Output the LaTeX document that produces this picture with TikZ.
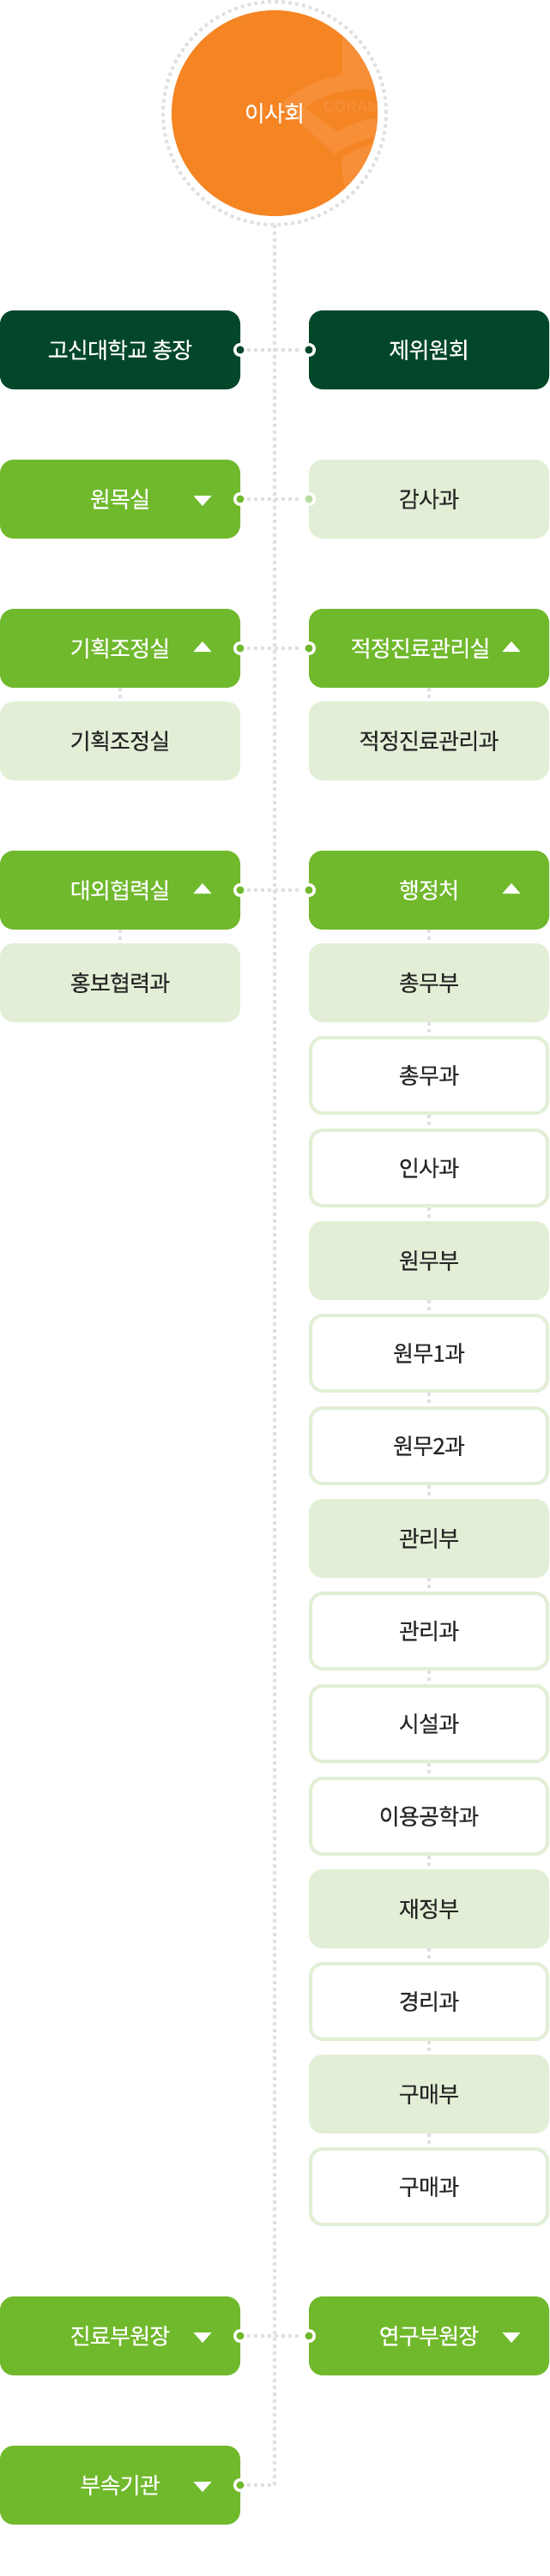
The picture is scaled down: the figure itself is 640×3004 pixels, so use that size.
\documentclass[tikz,border=0pt]{standalone}
\usepackage{xcolor}
\usepackage{fontspec}
\setmainfont[LetterSpace=-3,FakeBold=0.25]{Noto Sans CJK KR}
\newfontfamily\emblemfont{Liberation Sans}
\usetikzlibrary{positioning,shapes.geometric}
\definecolor{boardorange}{HTML}{F58423}
\definecolor{emblemorange}{HTML}{F68F38}
\definecolor{deepgreen}{HTML}{03472A}
\definecolor{leafgreen}{HTML}{70B92C}
\definecolor{palegreen}{HTML}{E2EFD6}
\definecolor{softgreen}{HTML}{B8DCA0}
\definecolor{dotgray}{HTML}{E0E0E0}

\begin{document}
\begin{tikzpicture}[x=1pt, y=1pt, node distance=16pt and 80pt, every node/.style={font=\fontsize{26}{30}\selectfont, inner sep=0pt, outer sep=0pt},
  topbox/.style={rounded corners=16pt, minimum width=280pt, minimum height=92pt, fill=deepgreen, text=white},
  headbox/.style={rounded corners=16pt, minimum width=280pt, minimum height=92pt, fill=leafgreen, text=white},
  palebox/.style={rounded corners=16pt, minimum width=280pt, minimum height=92pt, fill=palegreen, text=black!85},
  linebox/.style={rounded corners=14pt, minimum width=276pt, minimum height=88pt, outer sep=2pt, draw=palegreen, line width=4pt, fill=white, text=black!85},
  trianglemark/.style={isosceles triangle, isosceles triangle apex angle=82, isosceles triangle stretches, minimum width=21pt, minimum height=12pt, fill=white, anchor=apex},
  opened/.style={trianglemark, shape border rotate=90},
  closed/.style={trianglemark, shape border rotate=-90},
  knob/.style={circle, minimum size=12.5pt, outer sep=1.75pt, draw=white, line width=3.5pt},
  dotline/.style={draw=dotgray, line width=4pt, dash pattern=on 4pt off 4pt}]
\useasboundingbox (0,0) rectangle (640,-3004);
% board
\node[circle, minimum size=240pt, fill=boardorange] (board) at (320,-132) {};
\node[circle, minimum size=260pt, dotline] (ring) at (board.center) {};
\begin{scope}
\clip (board.center) circle (120pt);
\fill[emblemorange] (399,-30) -- (399,-87) .. controls (370,-92) and (345,-105) .. (327,-122) -- (390,-180) .. controls (405,-170) and (420,-163) .. (445,-158) -- (445,-137) .. controls (425,-138) and (410,-145) .. (393,-153) -- (355,-126) .. controls (380,-108) and (410,-100) .. (445,-106) -- (445,-30) -- cycle;
\fill[emblemorange] (399,-183) .. controls (412,-175) and (425,-170) .. (445,-165) -- (445,-230) -- (403,-225) .. controls (399,-210) and (398,-195) .. (399,-183) -- cycle;
\node[anchor=west, text=emblemorange, font=\emblemfont\bfseries\fontsize{17.5}{20}\selectfont] (coram) at (377,-124) {CORAM};
\end{scope}
\node[text=white] (boardname) at (board.center) {이사회};
% left column
\node[topbox] (president) at (140,-408) {고신대학교 총장};
\node[headbox, below=82pt of president] (chaplain) {원목실};
\node[headbox, below=82pt of chaplain] (planning) {기획조정실};
\node[palebox, below=of planning] (planningsub) {기획조정실};
\node[headbox, below=82pt of planningsub] (external) {대외협력실};
\node[palebox, below=of external] (externalsub) {홍보협력과};
\node[headbox, at={(140,-2724)}] (clinical) {진료부원장};
\node[headbox, below=82pt of clinical] (affiliate) {부속기관};
% right column
\node[topbox, right=of president] (committee) {제위원회};
\node[palebox, right=of chaplain] (audit) {감사과};
\node[headbox, right=of planning] (billing) {적정진료관리실\kern20pt};
\node[palebox, right=of planningsub] (billingsub) {적정진료관리과};
\node[headbox, right=of external] (admin) {행정처};
\node[palebox, below=of admin] (general) {총무부};
\node[linebox, below=of general] (generalsec) {총무과};
\node[linebox, below=of generalsec] (personnel) {인사과};
\node[palebox, below=of personnel] (affairs) {원무부};
\node[linebox, below=of affairs] (affairsone) {원무1과};
\node[linebox, below=of affairsone] (affairstwo) {원무2과};
\node[palebox, below=of affairstwo] (manage) {관리부};
\node[linebox, below=of manage] (managesec) {관리과};
\node[linebox, below=of managesec] (facility) {시설과};
\node[linebox, below=of facility] (biomed) {이용공학과};
\node[palebox, below=of biomed] (finance) {재정부};
\node[linebox, below=of finance] (account) {경리과};
\node[palebox, below=of account] (purchase) {구매부};
\node[linebox, below=of purchase] (purchasesec) {구매과};
\node[headbox, right=of clinical] (research) {연구부원장};
% triangles
\node[closed] (chaplainmark) at ([xshift=96pt,yshift=-8pt]chaplain.center) {};
\node[opened] (planningmark) at ([xshift=96pt,yshift=8pt]planning.center) {};
\node[opened] (billingmark) at ([xshift=96pt,yshift=8pt]billing.center) {};
\node[opened] (externalmark) at ([xshift=96pt,yshift=8pt]external.center) {};
\node[opened] (adminmark) at ([xshift=96pt,yshift=8pt]admin.center) {};
\node[closed] (clinicalmark) at ([xshift=96pt,yshift=-8pt]clinical.center) {};
\node[closed] (researchmark) at ([xshift=96pt,yshift=-8pt]research.center) {};
\node[closed] (affiliatemark) at ([xshift=96pt,yshift=-8pt]affiliate.center) {};
% knobs
\node[knob, fill=deepgreen] (k1l) at (president.east) {};
\node[knob, fill=deepgreen] (k1r) at (committee.west) {};
\node[knob, fill=leafgreen] (k2l) at (chaplain.east) {};
\node[knob, fill=softgreen] (k2r) at (audit.west) {};
\node[knob, fill=leafgreen] (k3l) at (planning.east) {};
\node[knob, fill=leafgreen] (k3r) at (billing.west) {};
\node[knob, fill=leafgreen] (k4l) at (external.east) {};
\node[knob, fill=leafgreen] (k4r) at (admin.west) {};
\node[knob, fill=leafgreen] (k5l) at (clinical.east) {};
\node[knob, fill=leafgreen] (k5r) at (research.west) {};
\node[knob, fill=leafgreen] (k6l) at (affiliate.east) {};
% connectors
\draw[dotline] (ring.south) |- (k6l);
\draw[dotline] (k1l) -- (k1r);
\draw[dotline] (k2l) -- (k2r);
\draw[dotline] (k3l) -- (k3r);
\draw[dotline] (k4l) -- (k4r);
\draw[dotline] (k5l) -- (k5r);
\draw[dotline] (planning) -- (planningsub);
\draw[dotline] (billing) -- (billingsub);
\draw[dotline] (external) -- (externalsub);
\draw[dotline] (admin) -- (general);
\draw[dotline] (general) -- (generalsec);
\draw[dotline] (generalsec) -- (personnel);
\draw[dotline] (personnel) -- (affairs);
\draw[dotline] (affairs) -- (affairsone);
\draw[dotline] (affairsone) -- (affairstwo);
\draw[dotline] (affairstwo) -- (manage);
\draw[dotline] (manage) -- (managesec);
\draw[dotline] (managesec) -- (facility);
\draw[dotline] (facility) -- (biomed);
\draw[dotline] (biomed) -- (finance);
\draw[dotline] (finance) -- (account);
\draw[dotline] (account) -- (purchase);
\draw[dotline] (purchase) -- (purchasesec);
\end{tikzpicture}
\end{document}
